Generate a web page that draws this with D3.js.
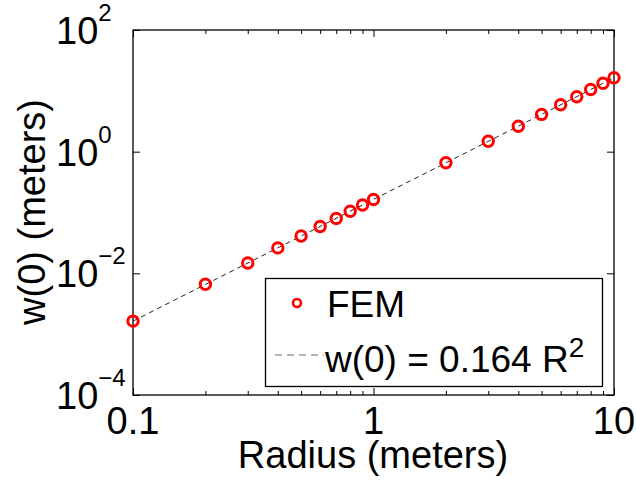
<!DOCTYPE html>
<html><head><meta charset="utf-8">
<script src="https://cdn.jsdelivr.net/npm/d3@7"></script>
<style>body{margin:0;background:#fff}svg text{font-family:"Liberation Sans",Arial,Helvetica,sans-serif;fill:#000}</style>
</head><body><svg id="c" width="636" height="481"></svg>
<script>
// Data
const radius = [0.1,0.2,0.3,0.4,0.5,0.6,0.7,0.8,0.9,1,2,3,4,5,6,7,8,9,10];
const deflection = [0.00164,0.0066,0.0148,0.0262,0.041,0.059,0.080,0.105,0.133,0.164,0.656,1.48,2.62,4.1,5.9,8.0,10.5,13.3,16.4];
const fitX = [0.1,10];
const fitY = [0.00164,16.4];
const xTickValues = [0.1,1,10];
const xTickLabels = ["0.1","1","10"];
const xMinorTicks = [0.2,0.3,0.4,0.5,0.6,0.7,0.8,0.9,2,3,4,5,6,7,8,9];
const yTickExponents = [-4,-2,0,2];
const legendLabels = ["FEM","w(0) = 0.164 R"];

const svg = d3.select("#c");
const L=133, R=614, T=30, B=395;
const x = d3.scaleLog().domain([0.1,10]).range([L,R]);
const y = d3.scaleLog().domain([1e-4,1e2]).range([B,T]);
const yTicks = yTickExponents.map(e=>Math.pow(10,e));
const FS = 38;

svg.append("rect").attr("x",L).attr("y",T).attr("width",R-L).attr("height",B-T)
  .attr("fill","none").attr("stroke","#000").attr("stroke-width",1.3);

function axisStyle(g){ g.select(".domain").remove(); g.selectAll("line").attr("stroke","#000").attr("stroke-width",1); }
svg.append("g").attr("transform",`translate(0,${B})`)
  .call(d3.axisBottom(x).tickValues(xTickValues).tickSize(-7).tickFormat(""))
  .call(axisStyle);
svg.append("g").attr("transform",`translate(0,${B})`)
  .call(d3.axisBottom(x).tickValues(xMinorTicks).tickSize(-4).tickFormat(""))
  .call(axisStyle);
svg.append("g").attr("transform",`translate(0,${T})`)
  .call(d3.axisTop(x).tickValues(xTickValues).tickSize(-7).tickFormat(""))
  .call(axisStyle);
svg.append("g").attr("transform",`translate(0,${T})`)
  .call(d3.axisTop(x).tickValues(xMinorTicks).tickSize(-4).tickFormat(""))
  .call(axisStyle);
svg.append("g").attr("transform",`translate(${L},0)`)
  .call(d3.axisLeft(y).tickValues(yTicks).tickSize(-7).tickFormat(""))
  .call(axisStyle);
svg.append("g").attr("transform",`translate(${R},0)`)
  .call(d3.axisRight(y).tickValues(yTicks).tickSize(-7).tickFormat(""))
  .call(axisStyle);

xTickValues.forEach((v,i)=>{
  svg.append("text").attr("x",x(v)).attr("y",B+39).attr("text-anchor","middle")
    .attr("font-size",FS).text(xTickLabels[i]);
});
yTickExponents.forEach(e=>{
  const yy = y(Math.pow(10,e));
  const t = svg.append("text").attr("x",56).attr("y",yy+14).attr("text-anchor","start").attr("font-size",FS);
  t.append("tspan").text("10");
  t.append("tspan").attr("font-size",24).attr("dy",-23).text(e<0?"\u2212"+Math.abs(e):String(e));
});

svg.append("text").attr("x",373).attr("y",468).attr("text-anchor","middle").attr("font-size",FS).text("Radius (meters)");
svg.append("text").attr("transform",`translate(45,212) rotate(-90)`).attr("text-anchor","middle").attr("font-size",FS).text("w(0) (meters)");

const line = d3.line().x(d=>x(d[0])).y(d=>y(d[1]));
svg.append("path").datum(fitX.map((v,i)=>[v,fitY[i]])).attr("d",line)
  .attr("fill","none").attr("stroke","#222").attr("stroke-width",1).attr("stroke-dasharray","5,4");

svg.append("g").selectAll("circle").data(radius.map((r,i)=>[r,deflection[i]])).join("circle")
  .attr("cx",d=>x(d[0])).attr("cy",d=>y(d[1])).attr("r",5.2)
  .attr("fill","none").attr("stroke","#ff0000").attr("stroke-width",3);

const lg = svg.append("g");
lg.append("rect").attr("x",265.5).attr("y",278.5).attr("width",337).attr("height",108)
  .attr("fill","#fff").attr("stroke","#000").attr("stroke-width",1.3);
lg.append("circle").attr("cx",297).attr("cy",303).attr("r",4).attr("fill","none").attr("stroke","#ff0000").attr("stroke-width",2.6);
lg.append("text").attr("x",327).attr("y",317).attr("font-size",37).text(legendLabels[0]);
lg.append("line").attr("x1",275).attr("x2",324).attr("y1",355).attr("y2",355)
  .attr("stroke","#666").attr("stroke-width",1.2).attr("stroke-dasharray","7,5");
const lt = lg.append("text").attr("x",325).attr("y",372).attr("font-size",37);
lt.append("tspan").text(legendLabels[1]);
lt.append("tspan").attr("font-size",28).attr("dy",-15).text("2");
</script></body></html>
